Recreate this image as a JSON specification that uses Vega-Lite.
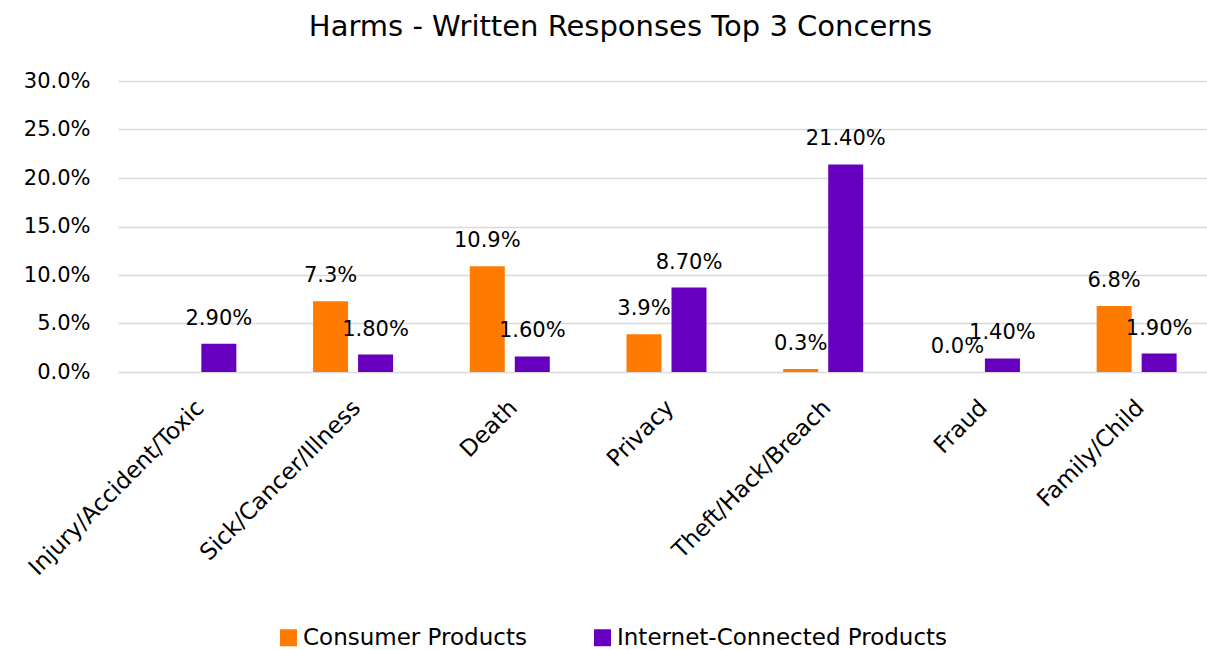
{
  "$schema": "https://vega.github.io/schema/vega-lite/v6.json",
  "width": 1089,
  "height": 291,
  "autosize": {"type": "none"},
  "padding": {"left": 118, "top": 81, "right": 0, "bottom": 278},
  "background": "white",
  "title": {
    "text": "Harms - Written Responses Top 3 Concerns",
    "fontSize": 29,
    "font": "DejaVu Sans",
    "fontWeight": "normal",
    "color": "#000000",
    "anchor": "middle",
    "dx": -42,
    "offset": 28
  },
  "config": {"view": {"stroke": null}, "font": "DejaVu Sans"},
  "data": {
    "values": [
      {"category": "Injury/Accident/Toxic", "series": "Internet-Connected Products", "value": 0.029},
      {"category": "Sick/Cancer/Illness", "series": "Consumer Products", "value": 0.073},
      {"category": "Sick/Cancer/Illness", "series": "Internet-Connected Products", "value": 0.018},
      {"category": "Death", "series": "Consumer Products", "value": 0.109},
      {"category": "Death", "series": "Internet-Connected Products", "value": 0.016},
      {"category": "Privacy", "series": "Consumer Products", "value": 0.039},
      {"category": "Privacy", "series": "Internet-Connected Products", "value": 0.087},
      {"category": "Theft/Hack/Breach", "series": "Consumer Products", "value": 0.003},
      {"category": "Theft/Hack/Breach", "series": "Internet-Connected Products", "value": 0.214},
      {"category": "Fraud", "series": "Consumer Products", "value": 0.0},
      {"category": "Fraud", "series": "Internet-Connected Products", "value": 0.014},
      {"category": "Family/Child", "series": "Consumer Products", "value": 0.068},
      {"category": "Family/Child", "series": "Internet-Connected Products", "value": 0.019}
    ]
  },
  "encoding": {
    "x": {
      "field": "category",
      "type": "nominal",
      "sort": ["Injury/Accident/Toxic", "Sick/Cancer/Illness", "Death", "Privacy", "Theft/Hack/Breach", "Fraud", "Family/Child"],
      "scale": {"range": [0, 1097], "paddingInner": 0.4895, "paddingOuter": 0.2447},
      "axis": {
        "title": null,
        "labelAngle": -45,
        "labelFontSize": 23,
        "labelColor": "#000000",
        "labelPadding": 24,
        "labelOffset": -4,
        "labelLimit": 500,
        "ticks": false,
        "domain": false,
        "grid": false
      }
    },
    "xOffset": {
      "field": "series",
      "type": "nominal",
      "sort": ["Consumer Products", "Internet-Connected Products"],
      "scale": {"paddingInner": 0.2222, "paddingOuter": 0}
    },
    "y": {
      "field": "value",
      "type": "quantitative",
      "scale": {"domain": [0, 0.3], "nice": false},
      "axis": {
        "title": null,
        "format": ".1%",
        "values": [0, 0.05, 0.1, 0.15, 0.2, 0.25, 0.3],
        "labelFontSize": 21,
        "labelColor": "#000000",
        "labelPadding": 28,
        "ticks": false,
        "domain": false,
        "gridColor": "#D9D9D9",
        "gridWidth": 1.5
      }
    }
  },
  "layer": [
    {
      "mark": {"type": "bar"},
      "encoding": {
        "color": {
          "field": "series",
          "type": "nominal",
          "scale": {"domain": ["Consumer Products", "Internet-Connected Products"], "range": ["#FF7B00", "#6600BE"]},
          "legend": {
            "title": null,
            "orient": "none",
            "legendX": 159,
            "legendY": 545,
            "direction": "horizontal",
            "symbolType": "square",
            "symbolSize": 289,
            "symbolStrokeWidth": 0,
            "labelFontSize": 23,
            "labelColor": "#000000",
            "labelOffset": 3,
            "labelLimit": 500,
            "columnPadding": 64
          }
        }
      }
    },
    {
      "transform": [{"filter": "datum.series === 'Consumer Products'"}],
      "mark": {"type": "text", "baseline": "alphabetic", "dy": -19, "fontSize": 21, "color": "#000000"},
      "encoding": {"text": {"field": "value", "type": "quantitative", "format": ".1%"}}
    },
    {
      "transform": [{"filter": "datum.series === 'Internet-Connected Products'"}],
      "mark": {"type": "text", "baseline": "alphabetic", "dy": -19, "fontSize": 21, "color": "#000000"},
      "encoding": {"text": {"field": "value", "type": "quantitative", "format": ".2%"}}
    }
  ]
}
